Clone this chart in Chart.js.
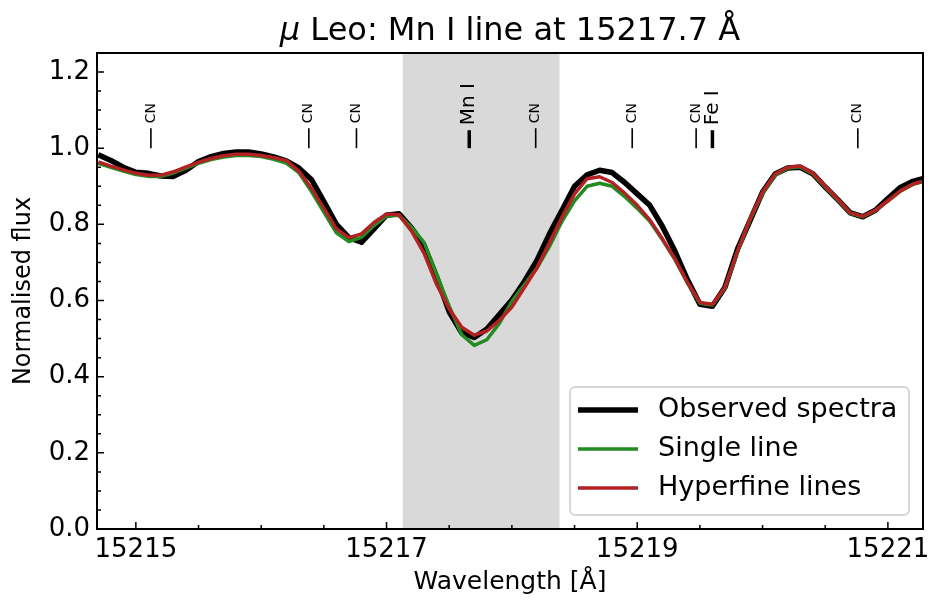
<!DOCTYPE html>
<html><head><meta charset="utf-8">
<script src="https://cdn.jsdelivr.net/npm/chart.js@4.4.0/dist/chart.umd.min.js"></script>
<style>html,body{margin:0;padding:0;background:#fff;}</style>
</head><body>
<canvas id="c" width="930" height="600"></canvas>
<script>
// ---- data ----
const wavelength = [15214.7,15214.8,15214.9,
  15215.0,15215.1,15215.2,15215.3,15215.4,15215.5,15215.6,15215.7,15215.8,15215.9,
  15216.0,15216.1,15216.2,15216.3,15216.4,15216.5,15216.6,15216.7,15216.8,15216.9,
  15217.0,15217.1,15217.2,15217.3,15217.4,15217.5,15217.6,15217.7,15217.8,15217.9,
  15218.0,15218.1,15218.2,15218.3,15218.4,15218.5,15218.6,15218.7,15218.8,15218.9,
  15219.0,15219.1,15219.2,15219.3,15219.4,15219.5,15219.6,15219.7,15219.8,15219.9,
  15220.0,15220.1,15220.2,15220.3,15220.4,15220.5,15220.6,15220.7,15220.8,15220.9,
  15221.0,15221.1,15221.2,15221.3];
const observed = [0.983,0.968,0.950,
  0.937,0.934,0.927,0.926,0.942,0.965,0.978,0.986,0.990,0.990,
  0.985,0.977,0.967,0.948,0.918,0.860,0.800,0.765,0.753,0.788,
  0.824,0.828,0.790,0.744,0.662,0.570,0.515,0.503,0.525,0.563,
  0.601,0.650,0.705,0.775,0.837,0.900,0.930,0.942,0.936,0.910,
  0.880,0.850,0.795,0.730,0.655,0.590,0.585,0.635,0.735,0.810,
  0.885,0.932,0.948,0.950,0.933,0.898,0.865,0.830,0.820,0.837,
  0.868,0.897,0.913,0.922];
const singleLine = [0.960,0.950,0.940,
  0.931,0.926,0.926,0.935,0.948,0.960,0.970,0.977,0.981,0.981,
  0.978,0.971,0.961,0.936,0.887,0.832,0.778,0.755,0.766,0.797,
  0.822,0.824,0.792,0.752,0.668,0.585,0.510,0.482,0.497,0.540,
  0.598,0.642,0.685,0.742,0.808,0.862,0.900,0.908,0.900,0.873,
  0.842,0.808,0.760,0.708,0.646,0.593,0.588,0.633,0.728,0.812,
  0.882,0.929,0.948,0.951,0.933,0.898,0.864,0.829,0.820,0.836,
  0.861,0.887,0.905,0.914];
const hyperfine = [0.964,0.953,0.943,
  0.934,0.929,0.929,0.938,0.951,0.963,0.973,0.980,0.984,0.984,
  0.981,0.975,0.968,0.940,0.895,0.842,0.788,0.765,0.775,0.805,
  0.827,0.825,0.782,0.724,0.642,0.578,0.530,0.509,0.520,0.548,
  0.583,0.634,0.686,0.752,0.819,0.880,0.920,0.925,0.910,0.882,
  0.850,0.812,0.762,0.710,0.648,0.595,0.590,0.635,0.730,0.815,
  0.885,0.932,0.950,0.953,0.935,0.900,0.866,0.830,0.821,0.837,
  0.862,0.888,0.906,0.915];
const xTicks = [15215, 15217, 15219, 15221];
const yTicks = [0.0, 0.2, 0.4, 0.6, 0.8, 1.0, 1.2];
const lineWaves = [15215.12, 15216.38, 15216.76, 15217.66, 15218.19, 15218.96, 15219.47, 15219.60, 15220.76];
const lineNames = ['CN', 'CN', 'CN', 'Mn I', 'CN', 'CN', 'CN', 'Fe I', 'CN'];
const labelBase = 1.0;
const bandRange = [15217.13, 15218.38];
const seriesNames = ['Observed spectra', 'Single line', 'Hyperfine lines'];

// ---- styling ----
const FAM = "'DejaVu Sans', sans-serif";
const COL = {obs: '#000000', single: '#228b22', hyper: '#b22222'};

const bandPlugin = {
  id: 'band',
  beforeDatasetsDraw(chart) {
    const {ctx, chartArea: a, scales: {x}} = chart;
    const x0 = x.getPixelForValue(bandRange[0]), x1 = x.getPixelForValue(bandRange[1]);
    ctx.save();
    ctx.fillStyle = 'rgba(128,128,128,0.3)';
    ctx.fillRect(x0, a.top, x1 - x0, a.bottom - a.top);
    ctx.restore();
  }
};

const labelPlugin = {
  id: 'lineLabels',
  afterDatasetsDraw(chart) {
    const {ctx, scales: {x, y}} = chart;
    const y0 = y.getPixelForValue(labelBase);
    lineWaves.forEach((w, i) => {
      const px = x.getPixelForValue(w);
      const big = lineNames[i] !== 'CN';
      ctx.save();
      ctx.translate(px, y0);
      ctx.rotate(-Math.PI / 2);
      ctx.strokeStyle = '#000';
      ctx.lineWidth = big ? 3.5 : 1.6;
      const dl = big ? 18 : 20;
      ctx.beginPath(); ctx.moveTo(0, 0); ctx.lineTo(dl, 0); ctx.stroke();
      ctx.fillStyle = '#000';
      ctx.font = (big ? 20 : 14) + 'px ' + FAM;
      ctx.textBaseline = 'middle';
      ctx.textAlign = 'left';
      ctx.fillText(lineNames[i], dl + 5, 0);
      ctx.restore();
    });
  }
};

const framePlugin = {
  id: 'frame',
  afterDraw(chart) {
    const {ctx, chartArea: a, scales: {x, y}} = chart;
    ctx.save();
    ctx.strokeStyle = '#000';
    ctx.lineWidth = 1.5;
    ctx.beginPath();
    for (let k = 0; ; k++) {
      const v = 15215 + k * 0.5;
      if (v > x.max) break;
      const px = x.getPixelForValue(v);
      const len = xTicks.includes(v) ? 7 : 4;
      ctx.moveTo(px, a.bottom); ctx.lineTo(px, a.bottom - len);
    }
    for (let k = 0; ; k++) {
      const v = k * 0.05;
      if (v > y.max + 1e-9) break;
      const py = y.getPixelForValue(v);
      const isMajor = yTicks.some(t => Math.abs(t - v) < 1e-6);
      const len = isMajor ? 7 : 4;
      ctx.moveTo(a.left, py); ctx.lineTo(a.left + len, py);
    }
    ctx.stroke();
    ctx.lineWidth = 2;
    ctx.strokeRect(a.left, a.top, a.right - a.left, a.bottom - a.top);
    ctx.restore();
  }
};

const legendPlugin = {
  id: 'customLegend',
  afterDraw(chart) {
    const {ctx, chartArea: a} = chart;
    const w = 339, h = 128;
    const bx = a.right - 14 - w, by = a.bottom - 14 - h;
    ctx.save();
    ctx.beginPath();
    ctx.roundRect(bx, by, w, h, 5);
    ctx.fillStyle = 'rgba(255,255,255,0.8)';
    ctx.fill();
    ctx.strokeStyle = '#cccccc';
    ctx.lineWidth = 1.5;
    ctx.stroke();
    const order = [2, 1, 0]; // dataset indices: observed, single, hyperfine
    order.forEach((di, r) => {
      const ds = chart.data.datasets[di];
      const yy = by + 23 + r * 39;
      ctx.strokeStyle = ds.borderColor;
      ctx.lineWidth = ds.borderWidth;
      ctx.beginPath(); ctx.moveTo(bx + 8, yy); ctx.lineTo(bx + 68, yy); ctx.stroke();
      ctx.fillStyle = '#000';
      ctx.font = '27px ' + FAM;
      ctx.textBaseline = 'middle';
      ctx.textAlign = 'left';
      ctx.fillText(ds.label, bx + 88, yy);
    });
    ctx.restore();
  }
};

const titlePlugin = {
  id: 'mixedTitle',
  afterDraw(chart) {
    const {ctx, chartArea: a} = chart;
    const parts = [['μ', 'italic 32px ' + FAM], [' Leo: Mn I line at 15217.7 Å', '32px ' + FAM]];
    ctx.save();
    let total = 0;
    parts.forEach(p => { ctx.font = p[1]; total += ctx.measureText(p[0]).width; });
    let xx = (a.left + a.right) / 2 - total / 2;
    ctx.fillStyle = '#000';
    ctx.textBaseline = 'alphabetic';
    ctx.textAlign = 'left';
    parts.forEach(p => { ctx.font = p[1]; ctx.fillText(p[0], xx, 40); xx += ctx.measureText(p[0]).width; });
    ctx.restore();
  }
};

const mk = arr => wavelength.map((w, i) => ({x: w, y: arr[i]}));

new Chart(document.getElementById('c'), {
  type: 'line',
  data: {
    datasets: [
      {label: seriesNames[2], data: mk(hyperfine), borderColor: COL.hyper, borderWidth: 3.5, order: 1, clip: 0},
      {label: seriesNames[1], data: mk(singleLine), borderColor: COL.single, borderWidth: 3.5, order: 2, clip: 0},
      {label: seriesNames[0], data: mk(observed), borderColor: COL.obs, borderWidth: 5.5, order: 3, clip: 0}
    ]
  },
  options: {
    responsive: false,
    animation: false,
    devicePixelRatio: 1,
    layout: {padding: {top: 53, right: 7, left: 0, bottom: 0}},
    elements: {point: {radius: 0}, line: {tension: 0, borderJoinStyle: 'round', borderCapStyle: 'butt', fill: false}},
    plugins: {legend: {display: false}, tooltip: {enabled: false}, title: {display: false}},
    scales: {
      x: {
        type: 'linear', min: 15214.69, max: 15221.28,
        afterBuildTicks(s) { s.ticks = xTicks.map(v => ({value: v})); },
        ticks: {font: {family: FAM, size: 26}, color: '#000', padding: 6, maxRotation: 0, autoSkip: false, callback: v => String(v)},
        grid: {display: false, drawTicks: false},
        border: {display: false},
        title: {display: true, text: 'Wavelength [Å]', font: {family: FAM, size: 25}, color: '#000', padding: {top: 0, bottom: 3}},
        afterFit(s) { s.height = 71; s.paddingLeft = 0; s.paddingRight = 0; }
      },
      y: {
        type: 'linear', min: 0, max: 1.25,
        afterBuildTicks(s) { s.ticks = yTicks.map(v => ({value: v})); },
        ticks: {font: {family: FAM, size: 26}, color: '#000', padding: 7, autoSkip: false, callback: v => Number(v).toFixed(1)},
        grid: {display: false, drawTicks: false},
        border: {display: false},
        title: {display: true, text: 'Normalised flux', font: {family: FAM, size: 24}, color: '#000', padding: {top: 9, bottom: 0}},
        afterFit(s) { s.width = 97; s.paddingTop = 0; s.paddingBottom = 0; }
      }
    }
  },
  plugins: [bandPlugin, labelPlugin, framePlugin, legendPlugin, titlePlugin]
});
</script>
</body></html>
